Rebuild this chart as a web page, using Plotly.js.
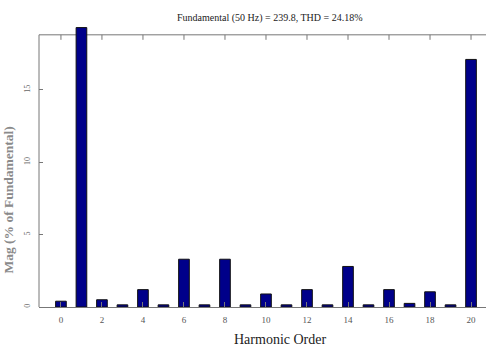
<!DOCTYPE html>
<html><head><meta charset="utf-8">
<script src="https://cdn.plot.ly/plotly-3.0.1.min.js"></script>
<style>html,body{margin:0;padding:0;background:#fff;}</style>
</head><body><div id="chart" style="width:486px;height:347px;"></div>
<script>
const harmonicOrder = [0,1,2,3,4,5,6,7,8,9,10,11,12,13,14,15,16,17,18,19,20];
const magPercent = [0.4,19.3,0.5,0.15,1.2,0.15,3.3,0.15,3.3,0.15,0.9,0.15,1.2,0.15,2.8,0.15,1.2,0.25,1.05,0.15,17.1];
const xTickVals = [0,2,4,6,8,10,12,14,16,18,20];
const yTickVals = [0,5,10,15];
const titleText = 'Fundamental (50 Hz) = 239.8, THD = 24.18%';
const xTitle = 'Harmonic Order';
const yTitle = 'Mag (% of Fundamental)';

const serif = 'Liberation Serif, Times New Roman, serif';
const yFrameTop = 18.8;      // axis frame top (data units)
const xRange = [-1.07, 20.73];
const yRange = [0, 19.34];
const pxPerUnitY = 280 / yRange[1];
const tickLenUnits = 5 / pxPerUnitY;
const lineStyle = {color: '#777', width: 1};

const shapes = [
  {type: 'line', xref: 'x', yref: 'y', x0: xRange[0], x1: xRange[1], y0: yFrameTop, y1: yFrameTop, line: lineStyle, layer: 'below'},
  {type: 'line', xref: 'paper', yref: 'y', x0: 0, x1: 0, y0: 0, y1: yFrameTop, line: lineStyle, layer: 'above'}
];
xTickVals.forEach(v => shapes.push({type: 'line', xref: 'x', yref: 'y', x0: v, x1: v,
  y0: yFrameTop, y1: yFrameTop - tickLenUnits, line: lineStyle, layer: 'below'}));

Plotly.newPlot('chart', [{
  type: 'bar', x: harmonicOrder, y: magPercent, width: 0.52,
  marker: {color: '#00008a', line: {color: '#111', width: 1}},
  hoverinfo: 'none'
}], {
  width: 486, height: 347,
  margin: {l: 39, r: 0, t: 27, b: 40},
  paper_bgcolor: '#fff', plot_bgcolor: '#fff',
  showlegend: false,
  shapes: shapes,
  xaxis: {range: xRange, tickvals: xTickVals, ticks: 'inside', ticklen: 5, tickcolor: '#777',
    showline: true, linecolor: '#777', linewidth: 1, showgrid: false, zeroline: false,
    tickfont: {family: serif, size: 9, color: '#555'}, ticklabelstandoff: 4, fixedrange: true},
  yaxis: {range: yRange, tickvals: yTickVals, ticks: 'inside', ticklen: 4, tickcolor: '#777',
    showline: false, showgrid: false, zeroline: false, tickangle: -90,
    tickfont: {family: serif, size: 8, color: '#666'}, ticklabelstandoff: 6, fixedrange: true},
  annotations: [
    {text: titleText, xref: 'paper', yref: 'paper', x: 0.516, y: 1, yshift: 9, showarrow: false,
     font: {family: serif, size: 10, color: '#222'}, xanchor: 'center', yanchor: 'middle'},
    {text: xTitle, xref: 'paper', yref: 'paper', x: 0.54, y: 0, yshift: -32, showarrow: false,
     font: {family: serif, size: 14, color: '#222'}, xanchor: 'center', yanchor: 'middle'},
    {text: '<b>' + yTitle + '</b>', xref: 'paper', yref: 'paper', x: 0, xshift: -30, y: 0.38, showarrow: false,
     textangle: -90, font: {family: serif, size: 13.5, color: '#8a8a8a'}, xanchor: 'center', yanchor: 'middle'}
  ]
}, {displayModeBar: false, staticPlot: true});
</script></body></html>
